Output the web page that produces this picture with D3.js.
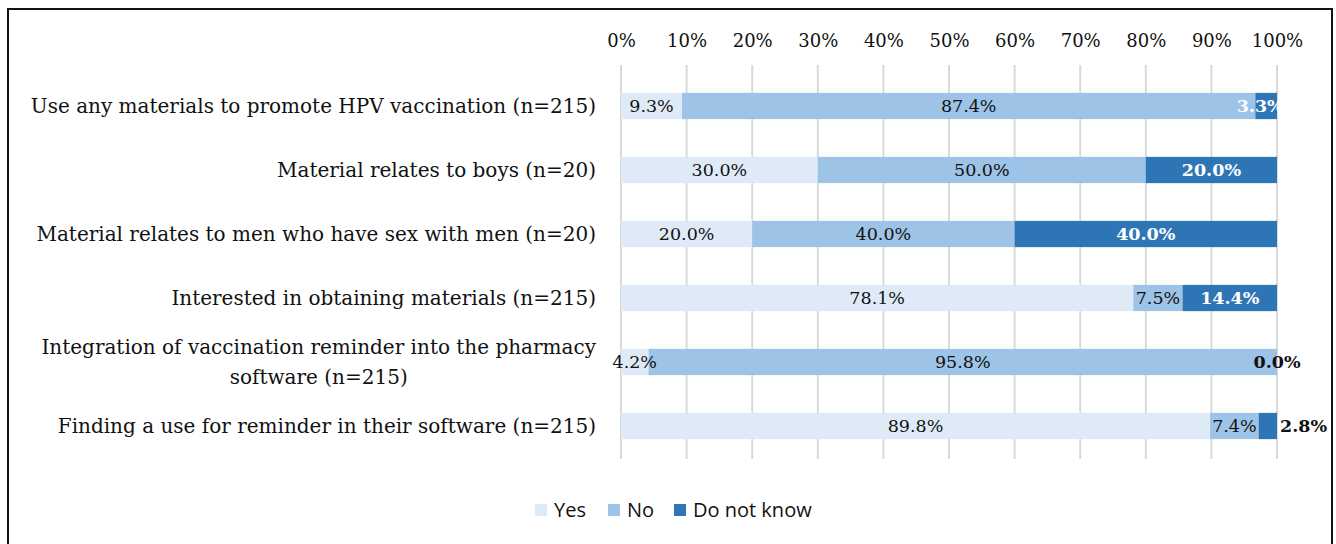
<!DOCTYPE html>
<html><head><meta charset="utf-8">
<script src="https://cdn.jsdelivr.net/npm/d3@7"></script>
<style>body{margin:0;background:#fff}</style>
</head><body>
<script>
const categories = [
  ["Use any materials to promote HPV vaccination (n=215)"],
  ["Material relates to boys (n=20)"],
  ["Material relates to men who have sex with men (n=20)"],
  ["Interested in obtaining materials (n=215)"],
  ["Integration of vaccination reminder into the pharmacy", "software (n=215)"],
  ["Finding a use for reminder in their software (n=215)"]
];
const seriesNames = ["Yes", "No", "Do not know"];
const yesValues = [9.3, 30.0, 20.0, 78.1, 4.2, 89.8];
const noValues = [87.4, 50.0, 40.0, 7.5, 95.8, 7.4];
const dkValues = [3.3, 20.0, 40.0, 14.4, 0.0, 2.8];
const tickValues = [0, 10, 20, 30, 40, 50, 60, 70, 80, 90, 100];
const colors = ["#DEEBF7", "#9DC3E6", "#2E75B6"];

const W = 1336, H = 544;
const svg = d3.select("body").append("svg").attr("width", W).attr("height", H);
const serif = "'DejaVu Serif',serif";
const sans = "'Open Sans','Liberation Sans',sans-serif";

// border
svg.append("rect").attr("x", 8).attr("y", 9).attr("width", 1324).attr("height", 560)
  .attr("fill", "none").attr("stroke", "#111").attr("stroke-width", 2);

const x = d3.scaleLinear().domain([0, 100]).range([621, 1277]);
const y = d3.scaleBand().domain(d3.range(categories.length)).range([74, 458]).paddingInner(0.59).paddingOuter(0.295);

// gridlines
svg.append("g").selectAll("line").data(tickValues).join("line")
  .attr("x1", d => x(d)).attr("x2", d => x(d)).attr("y1", 65).attr("y2", 459)
  .attr("stroke", "#d9d9d9").attr("stroke-width", 2);

// top axis
const axis = d3.axisTop(x).tickValues(tickValues).tickFormat(d => d + "%").tickSize(0).tickPadding(0);
const ag = svg.append("g").attr("transform", "translate(0,47)").call(axis);
ag.select(".domain").remove();
ag.selectAll("text").attr("font-family", serif).attr("font-size", 18).attr("fill", "#111");

const stackData = categories.map((c, i) => ({i, Yes: yesValues[i], No: noValues[i], "Do not know": dkValues[i]}));
const stacked = d3.stack().keys(seriesNames)(stackData);

stacked.forEach((layer, k) => {
  const g = svg.append("g");
  g.selectAll("rect").data(layer).join("rect")
    .attr("x", d => x(d[0])).attr("width", d => x(d[1]) - x(d[0]))
    .attr("y", (d, i) => y(i)).attr("height", y.bandwidth())
    .attr("fill", colors[k]);
});

// value labels
stacked.forEach((layer, k) => {
  layer.forEach((d, i) => {
    const v = d[1] - d[0];
    let cx = (x(d[0]) + x(d[1])) / 2;
    let anchor = "middle";
    let fill = k === 2 ? "#fff" : "#111";
    let weight = k === 2 ? "bold" : "normal";
    if (k === 2 && v < 1) { fill = "#111"; }
    if (k === 2 && i === 5) { cx = x(d[1]) + 3; anchor = "start"; fill = "#111"; }
    if (k === 2 && i === 0) { cx = cx - 6; }
    svg.append("text").attr("x", cx).attr("y", y(i) + y.bandwidth() / 2)
      .attr("dy", "0.35em").attr("text-anchor", anchor)
      .attr("font-family", serif).attr("font-size", 17.5).attr("font-weight", weight)
      .attr("fill", fill).text(v.toFixed(1) + "%");
  });
});

// category labels
categories.forEach((lines, i) => {
  const cy = y(i) + y.bandwidth() / 2;
  const g = svg.append("g");
  const lh = 30;
  const texts = lines.map((l, j) => g.append("text")
    .attr("y", cy + (j - (lines.length - 1) / 2) * lh).attr("dy", "0.35em")
    .attr("font-family", serif).attr("font-size", 20).attr("fill", "#111").text(l));
  const widths = texts.map(t => t.node().getComputedTextLength());
  const maxW = d3.max(widths);
  const right = 596;
  texts.forEach((t, j) => {
    if (lines.length === 1) t.attr("x", right).attr("text-anchor", "end");
    else t.attr("x", right - maxW / 2).attr("text-anchor", "middle");
  });
});

// legend
const legendX = [535, 608, 674];
seriesNames.forEach((n, k) => {
  svg.append("rect").attr("x", legendX[k]).attr("y", 504).attr("width", 12).attr("height", 12).attr("fill", colors[k]);
  svg.append("text").attr("x", legendX[k] + 19).attr("y", 510).attr("dy", "0.35em")
    .attr("font-family", sans).attr("font-size", 20).attr("fill", "#111").text(n);
});
</script>
</body></html>
